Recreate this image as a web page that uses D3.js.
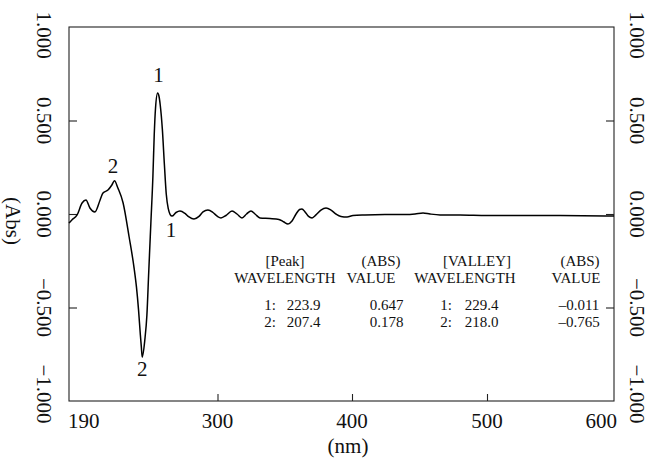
<!DOCTYPE html>
<html>
<head>
<meta charset="utf-8">
<script src="https://cdn.jsdelivr.net/npm/d3@7"></script>
<style>
  html, body { margin: 0; padding: 0; background: #fff; }
  svg { display: block; }
  text { font-family: "Liberation Serif", "Times New Roman", serif; fill: #111; }
</style>
</head>
<body>
<svg id="chart" width="649" height="459"></svg>
<script>
// Derivative absorbance spectrum, wavelength in nm
const wavelength = [
  190.0, 191.1, 193.1, 195.0, 196.5, 198.0, 199.9, 201.9, 203.0, 204.9,
  206.4, 207.4, 208.7, 210.7, 213.0, 214.9, 215.8, 216.6, 217.3, 217.7,
  218.0, 219.0, 219.8, 220.5, 221.3, 222.1, 222.6, 223.1, 223.9, 224.4,
  224.9, 225.7, 226.5, 227.2, 228.0, 228.7, 229.4, 235.6, 241.8, 249.6,
  255.8, 263.5, 271.3, 277.5, 285.2, 293.0, 300.0, 302.6, 306.3, 310.8,
  314.5, 318.2, 321.6, 324.9, 327.9, 331.6, 339.0, 345.7, 349.4, 352.4,
  355.4, 358.4, 361.0, 362.8, 365.1, 367.7, 370.3, 373.2, 376.9, 380.7,
  384.4, 388.1, 391.8, 396.3, 400.7, 409.6, 424.4, 439.3, 446.7, 452.6,
  457.8, 465.2, 480.0, 500.0, 526.0, 557.5, 600.0
];
const absorbance = [
  -0.048, -0.032, -0.005, 0.059, 0.075, 0.032, 0.011, 0.075, 0.112, 0.128,
  0.155, 0.178, 0.139, 0.059, -0.123, -0.289, -0.390, -0.513, -0.647, -0.716,
  -0.765, -0.674, -0.540, -0.310, -0.053, 0.203, 0.422, 0.567, 0.647, 0.631,
  0.583, 0.455, 0.262, 0.107, 0.027, -0.003, -0.011, 0.008, 0.016, 0.003,
  -0.016, -0.027, -0.013, 0.011, 0.021, 0.008, -0.013, -0.021, -0.008, 0.016,
  0.000, -0.021, 0.000, 0.016, 0.000, -0.021, -0.024, -0.029, -0.043, -0.053,
  -0.037, 0.000, 0.024, 0.027, 0.011, -0.013, -0.021, -0.005, 0.021, 0.032,
  0.021, 0.000, -0.013, -0.016, -0.008, -0.005, -0.003, -0.003, 0.000, 0.006,
  0.000, -0.005, -0.005, -0.008, -0.008, -0.008, -0.011
];

// Detected peaks and valleys
const peakWavelength = [223.9, 207.4];
const peakValue = [0.647, 0.178];
const valleyWavelength = [229.4, 218.0];
const valleyValue = [-0.011, -0.765];

// Axis ticks
const xTickValues = [190, 300, 400, 500, 600];
const xTickLabels = ["190", "300", "400", "500", "600"];
const yTickValues = [1, 0.5, 0, -0.5, -1];
const yTickLabels = ["1.000", "0.500", "0.000", "\u22120.500", "\u22121.000"];

const svg = d3.select("#chart");
const plotL = 69, plotR = 614, plotT = 27, plotB = 401;

// Wavelength axis of the instrument plot (expanded in the low-UV range)
const x = d3.scaleLinear()
  .domain([190, 229.4, 300, 400, 500, 600])
  .range([plotL, 172, 217.5, 352, 487, plotR]);
const y = d3.scaleLinear().domain([-1, 1]).range([plotB, plotT]);

// Frame
svg.append("rect")
  .attr("x", plotL).attr("y", plotT)
  .attr("width", plotR - plotL).attr("height", plotB - plotT)
  .attr("fill", "none").attr("stroke", "#222").attr("stroke-width", 1.1);

// Inward ticks
function styleAxis(g) {
  g.select(".domain").remove();
  g.selectAll(".tick line").attr("stroke", "#222").attr("stroke-width", 1.1);
  g.selectAll(".tick text").remove();
}
svg.append("g").attr("transform", `translate(0,${plotB})`)
  .call(d3.axisBottom(x).tickValues(xTickValues.slice(1, -1)).tickSize(-7).tickFormat(""))
  .call(styleAxis);
svg.append("g").attr("transform", `translate(${plotL},0)`)
  .call(d3.axisLeft(y).tickValues(yTickValues.slice(1, -1)).tickSize(-8).tickFormat(""))
  .call(styleAxis);
svg.append("g").attr("transform", `translate(${plotR},0)`)
  .call(d3.axisRight(y).tickValues(yTickValues.slice(1, -1)).tickSize(-8).tickFormat(""))
  .call(styleAxis);

// X tick labels
xTickValues.forEach((v, i) => {
  const last = xTickValues.length - 1;
  const anchor = i === 0 ? "start" : (i === last ? "end" : "middle");
  const dx = i === 0 ? -1 : (i === last ? 3 : 0);
  svg.append("text")
    .attr("x", x(v) + dx).attr("y", 428)
    .attr("text-anchor", anchor)
    .attr("font-size", 21)
    .text(xTickLabels[i]);
});
svg.append("text")
  .attr("x", 348).attr("y", 453)
  .attr("text-anchor", "middle").attr("font-size", 21)
  .text("(nm)");

// Y tick labels, rotated, on both sides
const yLab = v => Math.max(35, Math.min(394, y(v)));
[37, 630].forEach(bx => {
  yTickValues.forEach((v, i) => {
    svg.append("text")
      .attr("transform", `translate(${bx},${yLab(v)}) rotate(90)`)
      .attr("text-anchor", "middle")
      .attr("font-size", 21)
      .text(yTickLabels[i]);
  });
});
svg.append("text")
  .attr("transform", `translate(6,${y(0) + 7}) rotate(90)`)
  .attr("text-anchor", "middle").attr("font-size", 21)
  .text("(Abs)");

// Spectrum
const pts = wavelength.map((w, i) => [w, absorbance[i]]);
const line = d3.line()
  .x(d => x(d[0])).y(d => y(d[1]))
  .curve(d3.curveMonotoneX);
svg.append("path")
  .datum(pts)
  .attr("d", line)
  .attr("fill", "none")
  .attr("stroke", "#000")
  .attr("stroke-width", 1.5)
  .attr("stroke-linejoin", "round");

// Peak / valley numbers
peakWavelength.forEach((w, i) => {
  svg.append("text")
    .attr("x", x(w) + (i === 0 ? 1 : -1.5)).attr("y", y(peakValue[i]) - (i === 0 ? 11 : 8))
    .attr("text-anchor", "middle").attr("font-size", 21)
    .text(i + 1);
});
valleyWavelength.forEach((w, i) => {
  svg.append("text")
    .attr("x", x(w) + (i === 0 ? -1 : 0)).attr("y", y(valleyValue[i]) + (i === 0 ? 21 : 19))
    .attr("text-anchor", "middle").attr("font-size", 21)
    .text(i + 1);
});

// Peak / valley table
const fWl = d3.format(".1f");
const fAbs = v => d3.format(".3f")(v).replace("\u2212", "\u2013");
const tSize = 15;
function cell(tx, ty, str) {
  svg.append("text")
    .attr("x", tx).attr("y", ty)
    .attr("text-anchor", "middle").attr("font-size", tSize)
    .text(str);
}
cell(285, 266, "[Peak]");
cell(381, 266, "(ABS)");
cell(477, 266, "[VALLEY]");
cell(580, 266, "(ABS)");
cell(285, 283, "WAVELENGTH");
cell(371, 283, "VALUE");
cell(465, 283, "WAVELENGTH");
cell(576, 283, "VALUE");
const rowY = [309.5, 326.5];
peakWavelength.forEach((w, i) => {
  cell(270, rowY[i], (i + 1) + ":");
  cell(303.5, rowY[i], fWl(w));
  cell(386.5, rowY[i], fAbs(peakValue[i]));
});
valleyWavelength.forEach((w, i) => {
  cell(446, rowY[i], (i + 1) + ":");
  cell(481.5, rowY[i], fWl(w));
  cell(579, rowY[i], fAbs(valleyValue[i]));
});
</script>
</body>
</html>
